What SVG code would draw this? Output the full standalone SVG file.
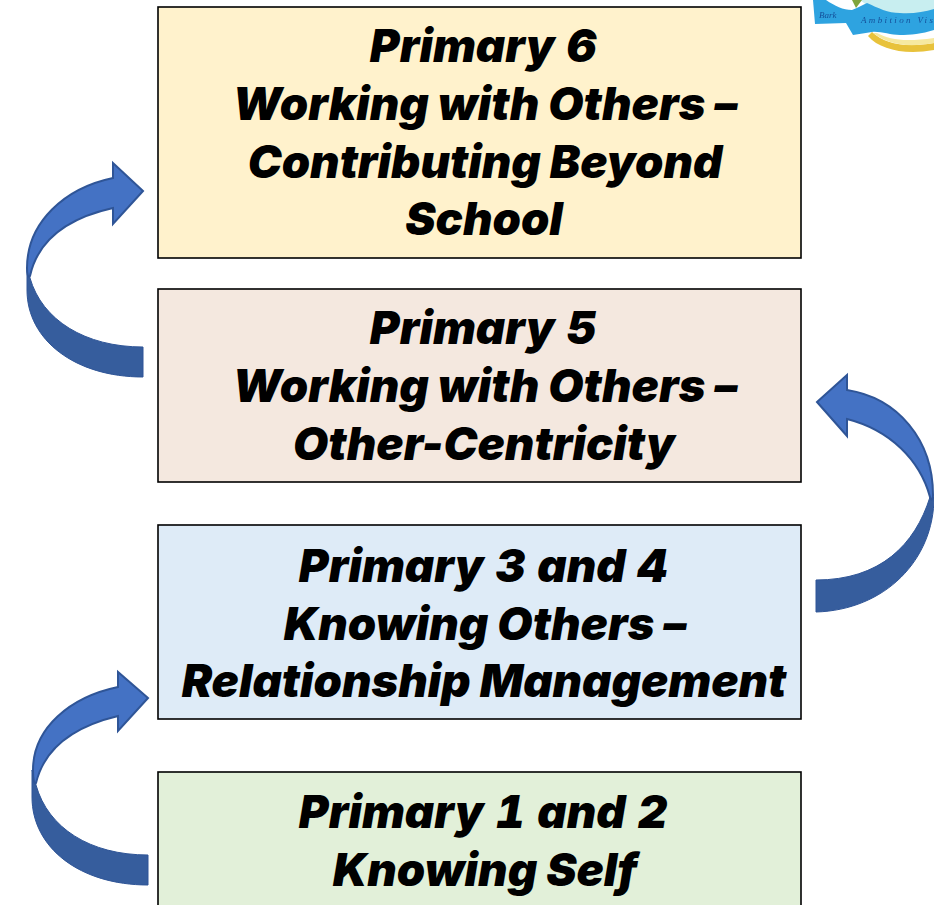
<svg xmlns="http://www.w3.org/2000/svg" width="934" height="905" viewBox="0 0 934 905">
<style>
.box{stroke:#000;stroke-width:1.6}
.t{font-family:"Inter","Noto Sans","DejaVu Sans",sans-serif;font-weight:900;font-style:italic;font-size:45.5px;text-anchor:middle;fill:#000}
.n{font-variant-numeric:tabular-nums}
.up{fill:#4472c4;stroke:#2f5597;stroke-width:2;stroke-linejoin:miter}
.down{fill:#365d9d;stroke:#2f5597;stroke-width:1}
.logo{font-family:"Liberation Serif",serif;font-style:italic;font-size:9px;fill:#14509a}
</style>
<defs><filter id="soft" x="-5%" y="-5%" width="110%" height="110%"><feGaussianBlur stdDeviation="0.7"/></filter></defs>
<rect width="934" height="905" fill="#fff"/>
<g id="logo" filter="url(#soft)">
<path d="M860 0H934V14L900 16L868 6Z" fill="#c8eef0"/>
<path d="M872 32C885 44 905 48 934 43V50C905 55 880 50 868 36Z" fill="#e8c23a"/>
<path d="M877 33C890 40 905 42 934 38V43C905 48 888 44 873 33Z" fill="#f6e9a0"/>
<path d="M813 0H826C835 6 843 10 852 10C858 8 862 5 867 3C878 8 888 13 900 13C912 14 924 12 934 9V30C922 34 910 35 900 35C890 35 880 31 872 32L853 35L846 23L815 24Z" fill="#2fa3e0"/>
<path d="M852 0H862L856 8Z" fill="#7fa53a"/>
<text class="logo" x="819" y="18">Bark</text>
<text class="logo" x="861" y="23" textLength="72">Ambition Vis</text>
</g>
<g id="connectors">
<g id="arrow-p5-p6">
<path class="down" d="M143 347V377C75 377 27 340 27 290V268L30 278C42 320 85 347 143 347Z"/>
<path class="up" d="M143 191L113 163V178C65 188 27 222 27 268C27 273 28 279 30 276C38 240 68 218 113 208V224Z"/>
</g>
<g id="arrow-p34-p5">
<path class="down" d="M816 580V612C885 610 934 560 934 497L930 497C915 545 880 580 816 580Z"/>
<path class="up" d="M817 402L847 375V390C898 398 933 440 933 495C933 500 931 501 930 497C920 460 890 430 847 419V436Z"/>
</g>
<g id="arrow-p12-p34">
<path class="down" d="M148 855V885C80 885 32 848 32 797V770L36 785C48 828 90 855 148 855Z"/>
<path class="up" d="M148 698L118 672V687C70 697 33 728 33 770C33 777 34 786 36 783C44 750 72 727 118 716V731Z"/>
</g>
</g>
<g id="node-p6">
<rect class="box" x="158" y="7" width="643" height="251" fill="#fff2cc"/>
<text class="t n" x="483" y="62">Primary 6</text>
<text class="t" x="485" y="120">Working with Others –</text>
<text class="t" x="485" y="178">Contributing Beyond</text>
<text class="t" x="484" y="235">School</text>
</g>
<g id="node-p5">
<rect class="box" x="158" y="289" width="643" height="193" fill="#f4e8df"/>
<text class="t n" x="483" y="344">Primary 5</text>
<text class="t" x="485" y="402">Working with Others –</text>
<text class="t" x="484" y="460">Other-Centricity</text>
</g>
<g id="node-p34">
<rect class="box" x="158" y="525" width="643" height="194" fill="#deebf7"/>
<text class="t n" x="483" y="582">Primary 3 and 4</text>
<text class="t" x="485" y="640">Knowing Others –</text>
<text class="t" x="484" y="697">Relationship Management</text>
</g>
<g id="node-p12">
<rect class="box" x="158" y="772" width="643" height="140" fill="#e2f0d9"/>
<text class="t n" x="483" y="828">Primary 1 and 2</text>
<text class="t" x="485" y="886">Knowing Self</text>
</g>
</svg>
